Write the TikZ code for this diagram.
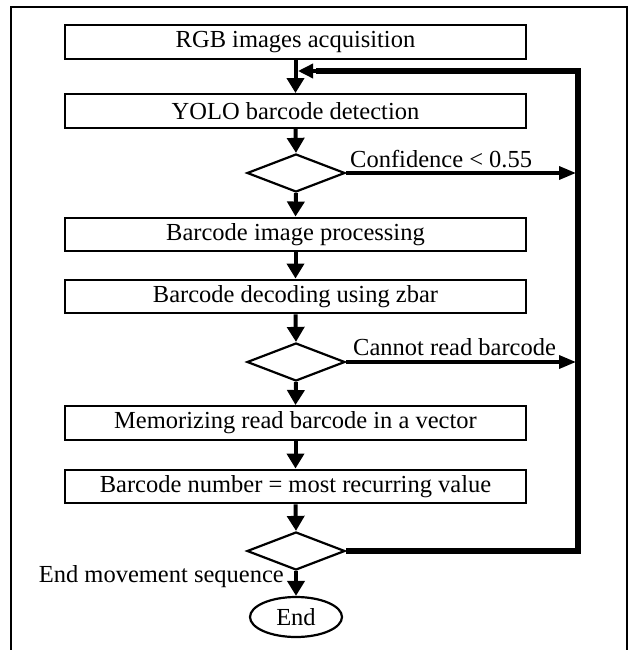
\documentclass[tikz,border=0pt]{standalone}
\usepackage{fontspec}
\setmainfont{Liberation Serif}
\usetikzlibrary{shapes.geometric,arrows.meta}
\begin{document}
\begin{tikzpicture}[x=1pt,y=-1pt,
  procbox/.style={draw,line width=2.4pt,minimum width=461pt,minimum height=33.5pt,inner sep=0pt,font=\fontsize{24.5}{27}\selectfont},
  decbox/.style={draw,shape=diamond,line width=2.2pt,minimum width=98pt,minimum height=38pt,inner sep=0pt},
  endbox/.style={draw,shape=ellipse,line width=2.2pt,minimum width=92pt,minimum height=40pt,inner sep=0pt,font=\fontsize{24.5}{27}\selectfont},
  lbl/.style={inner sep=0pt,font=\fontsize{24.5}{27}\selectfont},
  mainarrow/.style={line width=4pt,-{Triangle[length=15pt,width=17pt]}},
  sidearrow/.style={line width=3.5pt,-{Triangle[length=17pt,width=13pt]}},
  backline/.style={line width=5.5pt}]
\useasboundingbox (0,0) rectangle (631,650);
% frame
\draw[line width=1.3pt] (11,651) -- (11,7) -- (627,7) -- (627,651);
% nodes
\node[procbox] (b1) at (295.5,42) {RGB images acquisition};
\node[procbox] (b2) at (295.5,111) {YOLO barcode detection};
\node[decbox] (d1) at (296,173) {};
\node[procbox] (b3) at (295.5,234.5) {Barcode image processing};
\node[procbox] (b4) at (295.5,296.5) {Barcode decoding using zbar};
\node[decbox] (d2) at (296,362) {};
\node[procbox] (b5) at (295.5,423) {Memorizing read barcode in a vector};
\node[procbox] (b6) at (295.5,486.5) {Barcode number = most recurring value};
\node[decbox] (d3) at (296,551) {};
\node[endbox] (e) at (296,617) {End};
% coordinates for the loop
\coordinate (rt) at (578,71);
\coordinate (rb) at (578,551);
\coordinate (j) at (296,71);
\coordinate (r1) at (576,173);
\coordinate (r2) at (576,362);
% labels
\node[lbl,anchor=base west] (l1) at (350,167) {Confidence < 0.55};
\node[lbl,anchor=base west] (l2) at (353,355) {Cannot read barcode};
\node[lbl,anchor=base east] (l3) at (284,582) {End movement sequence};
% main arrows
\draw[mainarrow] (b1.south) -- (b2.north);
\draw[mainarrow] (b2.south) -- (d1.north);
\draw[mainarrow] (d1.south) -- (b3.north);
\draw[mainarrow] (b3.south) -- (b4.north);
\draw[mainarrow] (b4.south) -- (d2.north);
\draw[mainarrow] (d2.south) -- (b5.north);
\draw[mainarrow] (b5.south) -- (b6.north);
\draw[mainarrow] (b6.south) -- (d3.north);
\draw[mainarrow] (d3.south) -- (e.north);
% side arrows
\draw[sidearrow] (d1.east) -- (r1);
\draw[sidearrow] (d2.east) -- (r2);
% feedback loop
\draw[backline,line join=miter] (d3.east) -- (rb) -- (rt) -- ([xshift=20pt]j);
\draw[line width=3.5pt,-{Triangle[length=15pt,width=14pt]}] ([xshift=24pt]j) -- ([xshift=2pt]j);
\end{tikzpicture}
\end{document}
